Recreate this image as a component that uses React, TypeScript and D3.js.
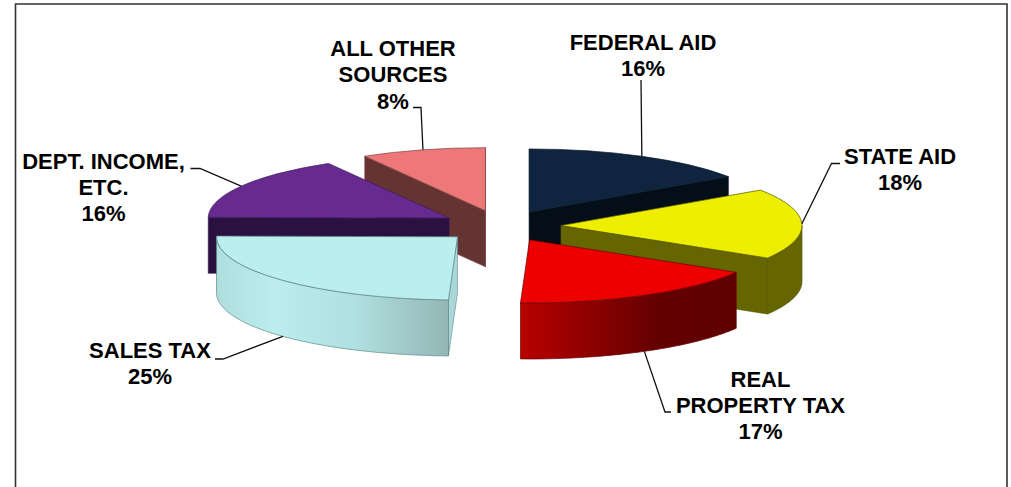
import React from "react";
import * as d3 from "d3";

const categories = ["FEDERAL AID", "STATE AID", "REAL PROPERTY TAX", "SALES TAX", "DEPT. INCOME, ETC.", "ALL OTHER SOURCES"];
const shares = [15.5, 18.1, 17.0, 24.6, 16.45, 8.35];
const labelLines = [["FEDERAL AID"], ["STATE AID"], ["REAL", "PROPERTY TAX"], ["SALES TAX"], ["DEPT. INCOME,", "ETC."], ["ALL OTHER", "SOURCES"]];
const topColors = ["#0F243E", "#EEEE00", "#EE0000", "#BBEEEE", "#672A8F", "#EE7777"];
const sideColors = ["#040E18", "#666600", "url(#wallRed)", "#AAD8D8", "#2B1142", "#663333"];
const edgeColors = ["#0A1826", "#555500", "#6A0000", "#5E8888", "#3C1A5C", "#7A4040"];
const labelCenters: [number, number][] = [[643, 50], [900, 164], [760.5, 386.5], [150, 358], [103.5, 168.5], [393, 56]];
const elbows: [number, number][][] = [[[641, 80]], [[831.5, 163.5], [840, 163.5]], [[665, 412], [671, 412]], [[223, 359], [215, 359]], [[200, 168.5], [190.5, 168.5]], [[421, 107.5], [413, 107.5]]];

const W = 1011, H = 487;
const CX = 501, CY = 226, RX = 241, K = 0.262, DEPTH = 56, EXPLODE = 60;
const FONT = "'Liberation Sans', Arial, sans-serif";
const FS = 22, LH = 26.3;

const pieGen = d3.pie<number>().sort(null).startAngle(0).endAngle(2 * Math.PI);
const arcGen = d3.arc<any>().innerRadius(0).outerRadius(RX);
const lineGen = d3.line<[number, number]>();

const slices = pieGen(shares).map((s, i) => {
  const mid = (s.startAngle + s.endAngle) / 2;
  const ax = CX + EXPLODE * Math.sin(mid);
  const ay = CY - EXPLODE * Math.cos(mid) * K;
  const rim = (t: number): [number, number] => [ax + RX * Math.sin(t), ay - RX * K * Math.cos(t)];
  return { ...s, i, mid, ax, ay, rim };
});

function drop(p: [number, number]): [number, number] {
  return [p[0], p[1] + DEPTH];
}

function radialWall(s: any, t: number) {
  const p = s.rim(t);
  const a: [number, number] = [s.ax, s.ay];
  return lineGen([a, p, drop(p), drop(a)]) + "Z";
}

function outerWall(s: any) {
  const a0 = Math.max(s.startAngle, Math.PI / 2);
  const a1 = Math.min(s.endAngle, 1.5 * Math.PI);
  if (a1 <= a0) return null;
  const ts = d3.range(0, 61).map((j) => a0 + ((a1 - a0) * j) / 60);
  const top = ts.map(s.rim) as [number, number][];
  return lineGen([...top, ...top.slice().reverse().map(drop)]) + "Z";
}

const drawOrder = slices.slice().sort((a, b) => a.ay - b.ay);

export default function App() {
  return (
    <svg width={W} height={H} viewBox={`0 0 ${W} ${H}`} style={{ position: "fixed", left: 0, top: 0, background: "#fff" }}>
      <defs>
        <linearGradient id="wallRed" gradientUnits="userSpaceOnUse" x1={slices[2].rim(slices[2].endAngle)[0]} x2={slices[2].rim(slices[2].startAngle)[0]} y1="0" y2="0">
          <stop offset="0" stopColor="#B80000" />
          <stop offset="0.65" stopColor="#620000" />
          <stop offset="1" stopColor="#600000" />
        </linearGradient>
        <linearGradient id="wallCyan" gradientUnits="userSpaceOnUse" x1={slices[3].rim(1.5 * Math.PI)[0]} x2={slices[3].rim(slices[3].startAngle)[0]} y1="0" y2="0">
          <stop offset="0" stopColor="#B0DEDE" />
          <stop offset="0.25" stopColor="#BBEDED" />
          <stop offset="0.6" stopColor="#B0DFDF" />
          <stop offset="1" stopColor="#93B6B6" />
        </linearGradient>
      </defs>
      <path d={`M15.5,${H + 5}V4H1007V${H + 5}`} fill="none" stroke="#333" strokeWidth={1.6} />
      {drawOrder.map((s) => {
        const wall = outerWall(s);
        const c = sideColors[s.i];
        const e = edgeColors[s.i];
        const startVisible = Math.sin(s.startAngle) < 0;
        const endVisible = Math.sin(s.endAngle) > 0;
        return (
          <g key={categories[s.i]}>
            {startVisible && <path d={radialWall(s, s.startAngle)} fill={c} stroke={e} strokeWidth={0.6} />}
            {endVisible && <path d={radialWall(s, s.endAngle)} fill={c} stroke={e} strokeWidth={0.6} />}
            {wall && <path d={wall} fill={s.i === 3 ? "url(#wallCyan)" : c} stroke={e} strokeWidth={0.7} />}
            <path
              d={arcGen(s) as string}
              transform={`translate(${s.ax},${s.ay}) scale(1,${K})`}
              fill={topColors[s.i]}
              stroke={e}
              strokeWidth={0.7}
              vectorEffect="non-scaling-stroke"
            />
          </g>
        );
      })}
      {slices.map((s) => {
        const p = s.rim(s.mid);
        const anchor = Math.cos(s.mid) < 0 ? drop(p) : p;
        return <path key={s.i} d={lineGen([anchor, ...elbows[s.i]]) as string} fill="none" stroke="#111" strokeWidth={1.3} />;
      })}
      {slices.map((s) => {
        const lines = [...labelLines[s.i], `${Math.round(s.data)}%`];
        return (
          <text key={s.i} fontFamily={FONT} fontSize={FS} fontWeight="bold" textAnchor="middle" fill="#000">
            {lines.map((l, j) => (
              <tspan key={j} x={labelCenters[s.i][0]} y={labelCenters[s.i][1] + j * LH}>
                {l}
              </tspan>
            ))}
          </text>
        );
      })}
    </svg>
  );
}
